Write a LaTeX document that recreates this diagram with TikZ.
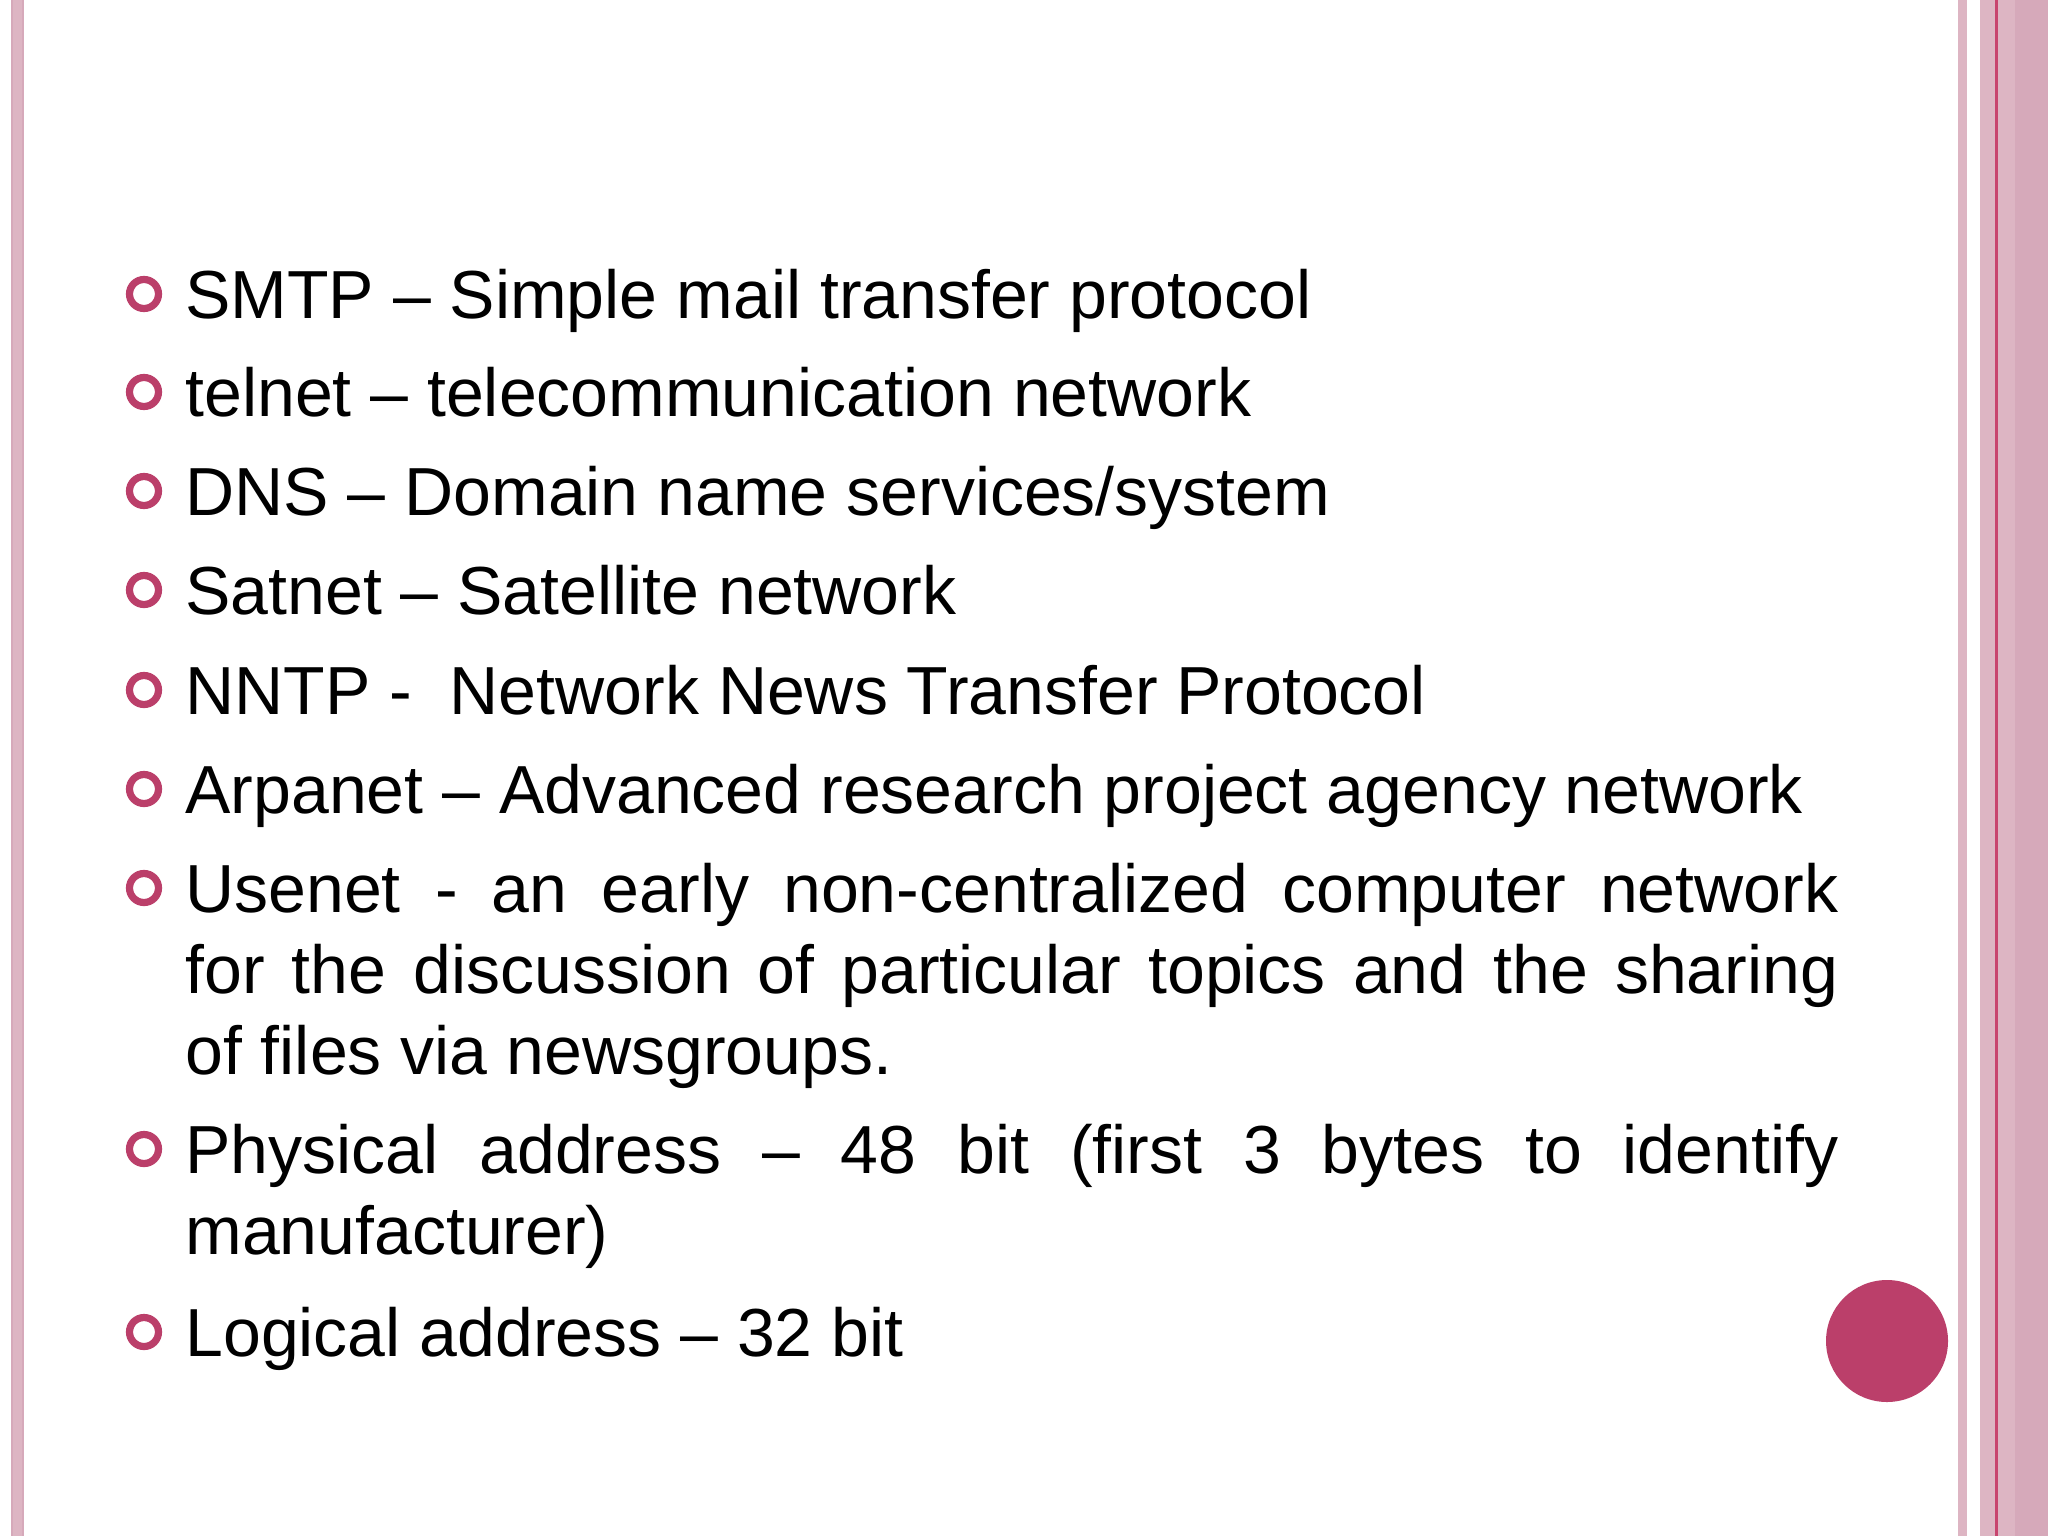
\documentclass[tikz,border=0pt]{standalone}
\usepackage{fontspec}
\setmainfont{Liberation Sans}
\definecolor{pinkS}{HTML}{DDB5C3}
\definecolor{pinkD}{HTML}{D6A9BA}
\definecolor{redL}{HTML}{C8446E}
\definecolor{bul}{HTML}{BB3F6A}
\begin{document}
\begin{tikzpicture}[x=0.5pt,y=-0.5pt,
  txt/.style={anchor=base west,inner sep=0,font=\fontsize{34pt}{40.5pt}\selectfont},
  bullet/.style={circle,draw=bul,line width=3.6pt,minimum size=14.5pt,inner sep=0}]
\useasboundingbox (0,0) rectangle (2048,1536);
\fill[white] (0,0) rectangle (2048,1536);
% left border
\fill[pinkS] (12,0) rectangle (23,1536);
\draw[pinkD,line width=0.6pt] (12,0)--(12,1536) (23,0)--(23,1536);
% right border
\fill[pinkS] (1958,0) rectangle (1967,1536);
\fill[pinkS] (1980,0) rectangle (2048,1536);
\fill[pinkD] (2015,0) rectangle (2048,1536);
\fill[redL] (1995,0) rectangle (1998,1536);
% disk
\fill[bul] (1887,1341) circle (61);
% bullets and text
\foreach \y/\n in {294/b1,392/b2,491/b3,590/b4,690/b5,789/b6,888/b7,1149/b8,1332/b9}
  \node[bullet] (\n) at (144,\y) {};
\node[txt] (t1) at (185,318) {SMTP – Simple mail transfer protocol};
\node[txt] (t2) at (185,416) {telnet – telecommunication network};
\node[txt] (t3) at (185,515) {DNS – Domain name services/system};
\node[txt] (t4) at (185,614) {Satnet – Satellite network};
\node[txt] (t5) at (185,714) {NNTP -\ \ Network News Transfer Protocol};
\node[txt] (t6) at (185,813) {Arpanet – Advanced research project agency network};
\node[txt] (t7a) at (185,912) {\makebox[826.5pt][s]{Usenet - an early non-centralized computer network}};
\node[txt] (t7b) at (185,993) {\makebox[826.5pt][s]{for the discussion of particular topics and the sharing}};
\node[txt] (t7c) at (185,1074) {of files via newsgroups.};
\node[txt] (t8a) at (185,1173) {\makebox[826.5pt][s]{Physical address – 48 bit (first 3 bytes to identify}};
\node[txt] (t8b) at (185,1254) {manufacturer)};
\node[txt] (t9) at (185,1356) {Logical address – 32 bit};
\end{tikzpicture}
\end{document}
